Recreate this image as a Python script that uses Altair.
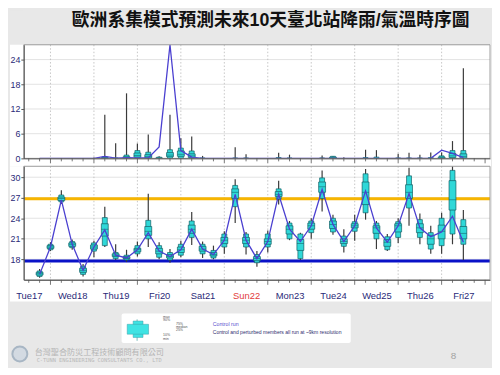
import json
import altair as alt
import pandas as pd

TITLE = "歐洲系集模式預測未來10天臺北站降雨/氣溫時序圖"
day_labels = ["Tue17", "Wed18", "Thu19", "Fri20", "Sat21", "Sun22", "Mon23", "Tue24", "Wed25", "Thu26", "Fri27"]
label_hours = [0, 24, 48, 72, 96, 120, 144, 168, 192, 216, 240]
sunday_hour = 120
midnight_hours = [12, 36, 60, 84, 108, 132, 156, 180, 204, 228, 252]
minor_hours = [0, 6, 18, 24, 30, 42, 48, 54, 66, 72, 78, 90, 96, 102, 114, 120, 126, 138, 144, 150,
               162, 168, 174, 186, 192, 198, 210, 216, 222, 234, 240, 246]
# forecast steps: hours after Tue17 12:00 (every 6 h)
step_hours = list(range(6, 241, 6))

# ---- temperature ensemble (deg C) ----
t_min = [15.3, 19.2, 26.1, 19.4, 15.5, 18.3, 19.8, 17.9, 17.6, 18.4, 19.8, 18.0, 17.5, 18.3, 20.1, 18.2, 18.0, 18.8, 23.3, 18.7,
         16.9, 19.0, 26.0, 20.8, 17.9, 21.0, 25.0, 21.6, 19.0, 20.7, 23.8, 19.5, 19.2, 20.4, 22.9, 20.2, 18.8, 18.8, 20.2, 17.9]
t_p10 = [15.5, 19.4, 26.4, 19.7, 15.8, 19.2, 20.0, 18.1, 17.9, 18.8, 21.0, 18.3, 17.9, 18.6, 21.2, 18.8, 18.2, 19.8, 25.7, 19.8,
         17.5, 19.8, 26.8, 21.0, 18.1, 21.9, 26.9, 22.0, 19.9, 22.1, 24.8, 21.0, 19.4, 21.2, 25.5, 21.2, 19.5, 20.0, 21.7, 20.2]
t_p25 = [15.7, 19.6, 26.6, 19.9, 16.1, 19.5, 21.4, 18.4, 18.1, 19.1, 21.5, 18.8, 18.2, 19.0, 21.8, 19.2, 18.5, 20.3, 26.9, 20.3,
         17.8, 20.2, 27.2, 21.7, 19.3, 22.4, 27.8, 22.5, 20.3, 22.6, 26.0, 21.8, 19.9, 22.0, 26.9, 21.9, 20.2, 21.0, 25.2, 21.0]
t_med = [15.9, 19.8, 26.9, 20.2, 16.4, 19.8, 22.4, 18.6, 18.2, 19.4, 22.1, 19.2, 18.4, 19.4, 22.4, 19.5, 18.7, 20.8, 27.8, 20.8,
         18.1, 20.6, 27.5, 22.4, 20.3, 22.9, 28.6, 23.1, 20.6, 22.9, 27.8, 22.6, 20.5, 22.9, 27.8, 22.6, 21.0, 22.1, 26.7, 21.8]
t_p75 = [16.1, 20.0, 27.1, 20.4, 16.7, 20.1, 23.2, 18.8, 18.4, 19.6, 22.8, 19.6, 18.7, 19.8, 23.0, 19.9, 19.0, 21.2, 28.3, 21.2,
         18.4, 21.0, 27.9, 22.9, 20.9, 23.3, 29.3, 23.6, 21.0, 23.2, 29.3, 22.9, 20.9, 23.2, 28.9, 23.2, 21.5, 23.0, 29.5, 22.8]
t_p90 = [16.3, 20.2, 27.4, 20.6, 17.0, 20.4, 24.1, 19.0, 18.6, 20.0, 23.7, 20.0, 19.0, 20.2, 23.6, 20.2, 19.3, 21.7, 28.8, 21.7,
         18.7, 21.7, 28.3, 23.3, 21.7, 23.6, 29.9, 24.0, 21.4, 23.5, 30.5, 23.3, 21.3, 23.5, 30.2, 23.8, 21.9, 24.0, 31.0, 23.8]
t_max = [16.6, 20.5, 28.1, 20.9, 17.3, 20.7, 25.7, 20.2, 19.4, 20.6, 27.6, 20.5, 19.5, 20.7, 24.9, 20.6, 20.0, 22.1, 29.7, 22.0,
         19.2, 22.2, 29.5, 23.6, 21.9, 24.0, 31.0, 24.5, 22.4, 24.5, 31.2, 23.6, 21.7, 24.0, 31.4, 24.7, 22.9, 24.8, 31.6, 25.2]
t_ctrl = [15.8, 19.8, 26.7, 20.2, 16.4, 19.8, 22.3, 18.6, 18.2, 19.4, 21.9, 19.2, 18.4, 19.4, 22.4, 19.5, 18.7, 20.8, 27.5, 20.8,
          18.1, 20.6, 27.5, 22.4, 20.6, 22.9, 28.2, 23.1, 20.6, 22.9, 28.0, 22.6, 20.5, 22.9, 27.6, 22.6, 21.3, 22.0, 24.3, 20.5]
t_upper_ref = [26.85]
t_lower_ref = [17.75]

# ---- 6-hourly precipitation ensemble (mm) ----
p_min = [0] * 40
p_p10 = [0] * 40
p_p25 = [0, 0, 0, 0, 0, 0, 0, 0, 0, 0.3, 0.1, 0, 0.4, 0.5, 0.2, 0, 0, 0, 0, 0,
         0, 0, 0, 0, 0, 0, 0, 0, 0, 0, 0, 0, 0, 0, 0, 0, 0, 0, 0.2, 0.1]
p_med = [0, 0, 0, 0, 0, 0, 0.05, 0, 0.1, 0.7, 0.4, 0, 0.8, 1.0, 0.6, 0, 0, 0, 0, 0,
         0, 0, 0, 0, 0, 0, 0, 0.1, 0, 0, 0, 0, 0, 0, 0, 0, 0, 0.1, 0.6, 0.5]
p_p75 = [0, 0, 0, 0, 0, 0, 0.2, 0, 0.4, 1.3, 0.9, 0.1, 1.4, 1.8, 1.1, 0, 0, 0, 0, 0,
         0, 0, 0, 0, 0, 0, 0, 0.3, 0, 0, 0, 0, 0, 0, 0, 0, 0, 0.3, 1.2, 1.1]
p_p90 = [0, 0, 0, 0, 0, 0, 0.4, 0.1, 0.8, 1.9, 1.5, 0.3, 2.1, 2.5, 1.8, 0.1, 0, 0, 0.1, 0.1,
         0, 0, 0.2, 0.1, 0, 0, 0.1, 0.5, 0, 0, 0.2, 0.3, 0, 0.1, 0.1, 0.1, 0.2, 0.6, 1.9, 1.9]
p_max = [0, 0, 0, 0, 0, 0.2, 10.6, 3.7, 15.8, 3.6, 5.8, 0.5, 10.6, 4.9, 5.3, 0.6, 0, 0, 2.7, 1.0,
         0, 0, 1.35, 0.9, 0, 0, 0.7, 0.6, 0.3, 0, 2.1, 2.0, 0, 1.1, 1.35, 0.9, 1.4, 1.4, 4.2, 21.9]
p_ctrl = [0, 0, 0, 0, 0, 0, 0.5, 0.05, 0.2, 0.1, 0.1, 2.8, 27.6, 1.9, 0.3, 0, 0, 0, 0, 0,
          0, 0, 0, 0, 0, 0, 0, 0, 0, 0, 0, 0, 0, 0, 0, 0, 0, 2.0, 1.2, 0.2]

precip_ticks = [0, 6, 12, 18, 24]
temp_ticks = [18, 21, 24, 27, 30]

t_df = pd.DataFrame({"h": step_hours, "mn": t_min, "p10": t_p10, "p25": t_p25, "med": t_med,
                     "p75": t_p75, "p90": t_p90, "mx": t_max, "ctrl": t_ctrl})
p_df = pd.DataFrame({"h": step_hours, "mn": p_min, "p10": p_p10, "p25": p_p25, "med": p_med,
                     "p75": p_p75, "p90": p_p90, "mx": p_max, "ctrl": p_ctrl})
one = pd.DataFrame({"k": [0]})

W = 472
H1 = 115
H2 = 115
BG = "#e8e8e8"
FONT = "Liberation Sans"
NAVY = "#2a2a78"
AXC = "#555555"
BOX_FILL = "#2fd8d8"
BOX_STROKE = "#145f66"
CTRL = "#4a3fd0"

top_xaxis = alt.Axis(title=None, labels=False, ticks=False, grid=False, domainColor=AXC, zindex=1,
                     minExtent=0)
label_js = json.dumps(day_labels)
bot_xaxis = alt.Axis(title=None, values=label_hours, labelExpr=f"{label_js}[round(datum.value/24)]",
                     ticks=False, tickSize=0, labelPadding=11, labelFontSize=9.5, labelFont=FONT,
                     labelFlush=False, labelOverlap=False, grid=False, domainColor=AXC, zindex=1,
                     minExtent=0,
                     labelColor={"condition": {"test": f"datum.value == {sunday_hour}", "value": "#e23b3b"},
                                 "value": NAVY})


def X(axis):
    return alt.X("h:Q", scale=alt.Scale(domain=[0, 252], nice=False, zero=False), axis=axis)


def make_y(dom, vals):
    def Y(field):
        return alt.Y(f"{field}:Q", scale=alt.Scale(domain=dom, nice=False, zero=False),
                     axis=alt.Axis(values=vals, title=None, grid=False, tickSize=3, tickColor=AXC,
                                   domainColor=AXC, labelColor=NAVY, labelFontSize=9, labelFont=FONT,
                                   labelPadding=1, zindex=1, minExtent=0))
    return Y


def panel(df, Y, xaxis, H, white_bottom, grid_vals, extra_before=(), extra_after=(), filt=None):
    layers = []
    layers.append(alt.Chart(one).mark_rect(color="white").encode(
        x=alt.value(-14), x2=alt.value(W + 1), y=alt.value(0), y2=alt.value(white_bottom)))
    gdf = pd.DataFrame({"g": grid_vals})
    layers.append(alt.Chart(gdf).mark_rule(color="#dcdcdc", strokeWidth=0.8).encode(y=Y("g")))
    vdf = pd.DataFrame({"h": midnight_hours[:-1]})
    layers.append(alt.Chart(vdf).mark_rule(color="#b8b8b8", strokeWidth=0.8, strokeDash=[1.5, 2]).encode(x=X(xaxis)))
    layers.extend(extra_before)
    base = alt.Chart(df)
    wb = base.transform_filter("datum.mx > 0") if filt else base
    ob = base.transform_filter("datum.p90 > 0") if filt else base
    ib = base.transform_filter("datum.p75 > 0") if filt else base
    layers.append(wb.mark_rule(color="#3a3a3a", strokeWidth=1.2).encode(x=X(xaxis), y=Y("mn"), y2="mx"))
    layers.append(ob.mark_bar(orient="vertical", size=5, color=BOX_FILL, stroke=BOX_STROKE, strokeWidth=0.7).encode(
        x=X(xaxis), y=Y("p10"), y2="p90"))
    layers.append(ib.mark_bar(orient="vertical", size=7, color=BOX_FILL, stroke=BOX_STROKE, strokeWidth=0.7).encode(
        x=X(xaxis), y=Y("p25"), y2="p75"))
    layers.append(ib.mark_tick(orient="horizontal", size=7, thickness=0.8, color=BOX_STROKE).encode(x=X(xaxis), y=Y("med")))
    layers.append(base.mark_line(color=CTRL, strokeWidth=1.3).encode(x=X(xaxis), y=Y("ctrl")))
    layers.append(alt.Chart(one).mark_rect(fillOpacity=0, stroke="#9a9a9a", strokeWidth=1).encode(
        x=alt.value(0), x2=alt.value(W), y=alt.value(0), y2=alt.value(H)))
    mdf = pd.DataFrame({"h": minor_hours})
    Mdf = pd.DataFrame({"h": midnight_hours})
    layers.append(alt.Chart(mdf).mark_rule(color=AXC, strokeWidth=0.8).encode(
        x=X(xaxis), y=alt.value(H), y2=alt.value(H + 3)))
    layers.append(alt.Chart(Mdf).mark_rule(color=AXC, strokeWidth=0.8).encode(
        x=X(xaxis), y=alt.value(H), y2=alt.value(H + 5)))
    layers.extend(extra_after)
    return alt.layer(*layers).properties(width=W, height=H)


def txt(s, x, y, size, color, font=FONT, align="left", weight="normal"):
    return alt.Chart(one).mark_text(text=s, fontSize=size, color=color, font=font, align=align,
                                    baseline="middle", fontWeight=weight).encode(x=alt.value(x), y=alt.value(y))


def box(x1, x2, y1, y2, **kw):
    return alt.Chart(one).mark_rect(**kw).encode(x=alt.value(x1), x2=alt.value(x2), y=alt.value(y1), y2=alt.value(y2))


Yp = make_y([0, 27.6], precip_ticks)
Yt = make_y([15, 31.6], temp_ticks)

title_layers = [
    box(-14, 0, -35, -33, color=BG),
    txt(TITLE, 250, -24, 18, "#111111", font="Liberation Sans, Noto Sans CJK TC", align="center", weight="bold"),
]
top = panel(p_df, Yp, top_xaxis, H1, H1 + 8, [6, 12, 18, 24], extra_after=title_layers, filt=True)

thr = [
    alt.Chart(pd.DataFrame({"v": t_upper_ref})).mark_rule(color="#f7b500", strokeWidth=3).encode(y=Yt("v")),
    alt.Chart(pd.DataFrame({"v": t_lower_ref})).mark_rule(color="#0a12c8", strokeWidth=3).encode(y=Yt("v")),
]

footer = [
    box(99, 331, 149, 179, color="white", cornerRadius=2),
    alt.Chart(one).mark_rule(color="#55aaaa", strokeWidth=0.8).encode(
        x=alt.value(114.7), y=alt.value(155), y2=alt.value(176.7)),
    box(110.7, 120.7, 156.7, 173.3, color="#3fe3e3", stroke="#3aa0a8", strokeWidth=0.5),
    box(104.7, 126.3, 160, 170, color="#3fe3e3", stroke="#3aa0a8", strokeWidth=0.5),
    txt("max", 141, 152.5, 3.6, "#555555"),
    txt("90%", 141, 156, 3.6, "#555555"),
    txt("75%", 154, 160, 3.6, "#555555"),
    txt("median", 154, 163, 3.6, "#555555"),
    txt("25%", 154, 166, 3.6, "#555555"),
    txt("10%", 141, 171, 3.6, "#555555"),
    txt("min", 141, 175, 3.6, "#555555"),
    txt("Control run", 191.3, 160, 5.3, "#5a4fcf"),
    txt("Control and perturbed members all run at ~9km resolution", 191.3, 168, 5.1, "#2e2e6e"),
    alt.Chart(one).mark_circle(size=230, color="#d3dae2", stroke="#a8b6c4", strokeWidth=2, opacity=1).encode(
        x=alt.value(-4), y=alt.value(190)),
    txt("台灣聖合防災工程技術顧問有限公司", 11, 189.3, 8.2, "#b4b4b4", font="Noto Sans CJK TC"),
    txt("C-TUNN ENGINEERING CONSULTANTS CO., LTD", 13, 196, 5.4, "#b8b8b8", font="DejaVu Sans Mono"),
    txt("8", 435, 192, 10, "#a3a3a3", align="center"),
]

bottom = panel(t_df, Yt, bot_xaxis, H2, H2 + 22, temp_ticks, extra_before=thr, extra_after=footer, filt=False)

chart = alt.vconcat(top, bottom, spacing=8, bounds="flush").properties(
    background=BG, padding=0
).configure_view(strokeWidth=0)

chart.save("out.html", embed_options={"renderer": "svg", "actions": False})
